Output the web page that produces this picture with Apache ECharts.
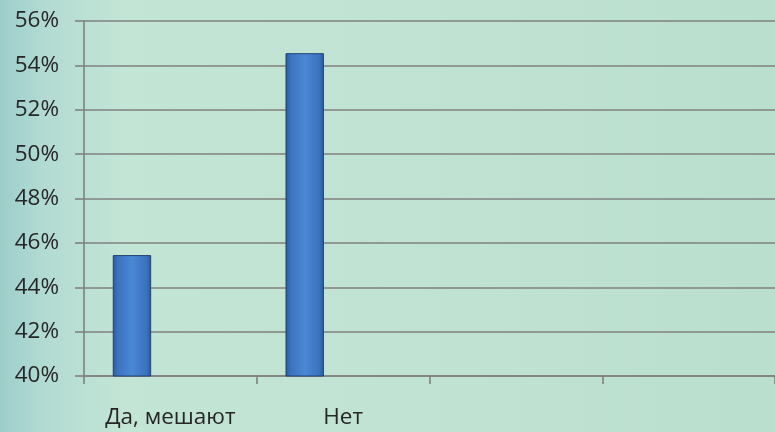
<!DOCTYPE html>
<html>
<head>
<meta charset="utf-8">
<script src="https://cdn.jsdelivr.net/npm/echarts@6/dist/echarts.min.js"></script>
<style>
html,body{margin:0;padding:0;}
#c{width:775px;height:432px;}
</style>
</head>
<body>
<div id="c"></div>
<script>
var categories = ['Да, мешают', 'Нет', '', ''];
var series1 = [45.45, 54.55, null, null];
var series2 = [null, null, null, null];
var series3 = [null, null, null, null];
var yMin = 40, yMax = 56, yStep = 2;

var chart = echarts.init(document.getElementById('c'));
var barColor = new echarts.graphic.LinearGradient(0, 0, 1, 0, [
  {offset: 0, color: '#2c5896'},
  {offset: 0.12, color: '#3b72bd'},
  {offset: 0.5, color: '#4a88d6'},
  {offset: 0.88, color: '#3b72bd'},
  {offset: 1, color: '#2c5896'}
]);
var textStyle = {color: '#262626', fontFamily: 'Open Sans', fontSize: 22.5};
chart.setOption({
  backgroundColor: new echarts.graphic.LinearGradient(0, 0, 1, 0, [
    {offset: 0, color: '#9ccfca'},
    {offset: 0.06, color: '#b3dbd3'},
    {offset: 0.16, color: '#c3e5d6'},
    {offset: 0.6, color: '#bfe2d2'},
    {offset: 1, color: '#bbdfcf'}
  ]),
  animation: false,
  grid: {left: 84, top: 21, width: 692, bottom: 56, containLabel: false},
  xAxis: {
    type: 'category',
    data: categories,
    axisLine: {show: true, lineStyle: {color: '#808080', width: 1.6}},
    axisTick: {show: true, length: 8, alignWithLabel: false, lineStyle: {color: '#808080', width: 1.6}},
    axisLabel: Object.assign({margin: 30, interval: 0}, textStyle),
    splitLine: {show: false}
  },
  yAxis: {
    type: 'value',
    min: yMin, max: yMax, interval: yStep,
    axisLine: {show: true, lineStyle: {color: '#808080', width: 1.6}},
    axisTick: {show: true, length: 9, lineStyle: {color: '#808080', width: 1.6}},
    axisLabel: Object.assign({margin: 25, formatter: '{value}%'}, textStyle),
    splitLine: {show: true, lineStyle: {color: '#808080', width: 1.6}}
  },
  series: [
    {type: 'bar', data: series1, barGap: '0%', barCategoryGap: '33.3%',
      itemStyle: {color: barColor, borderColor: '#1f4274', borderWidth: 1}},
    {type: 'bar', data: series2, barGap: '0%', barCategoryGap: '33.3%'},
    {type: 'bar', data: series3, barGap: '0%', barCategoryGap: '33.3%'}
  ]
});
</script>
</body>
</html>
